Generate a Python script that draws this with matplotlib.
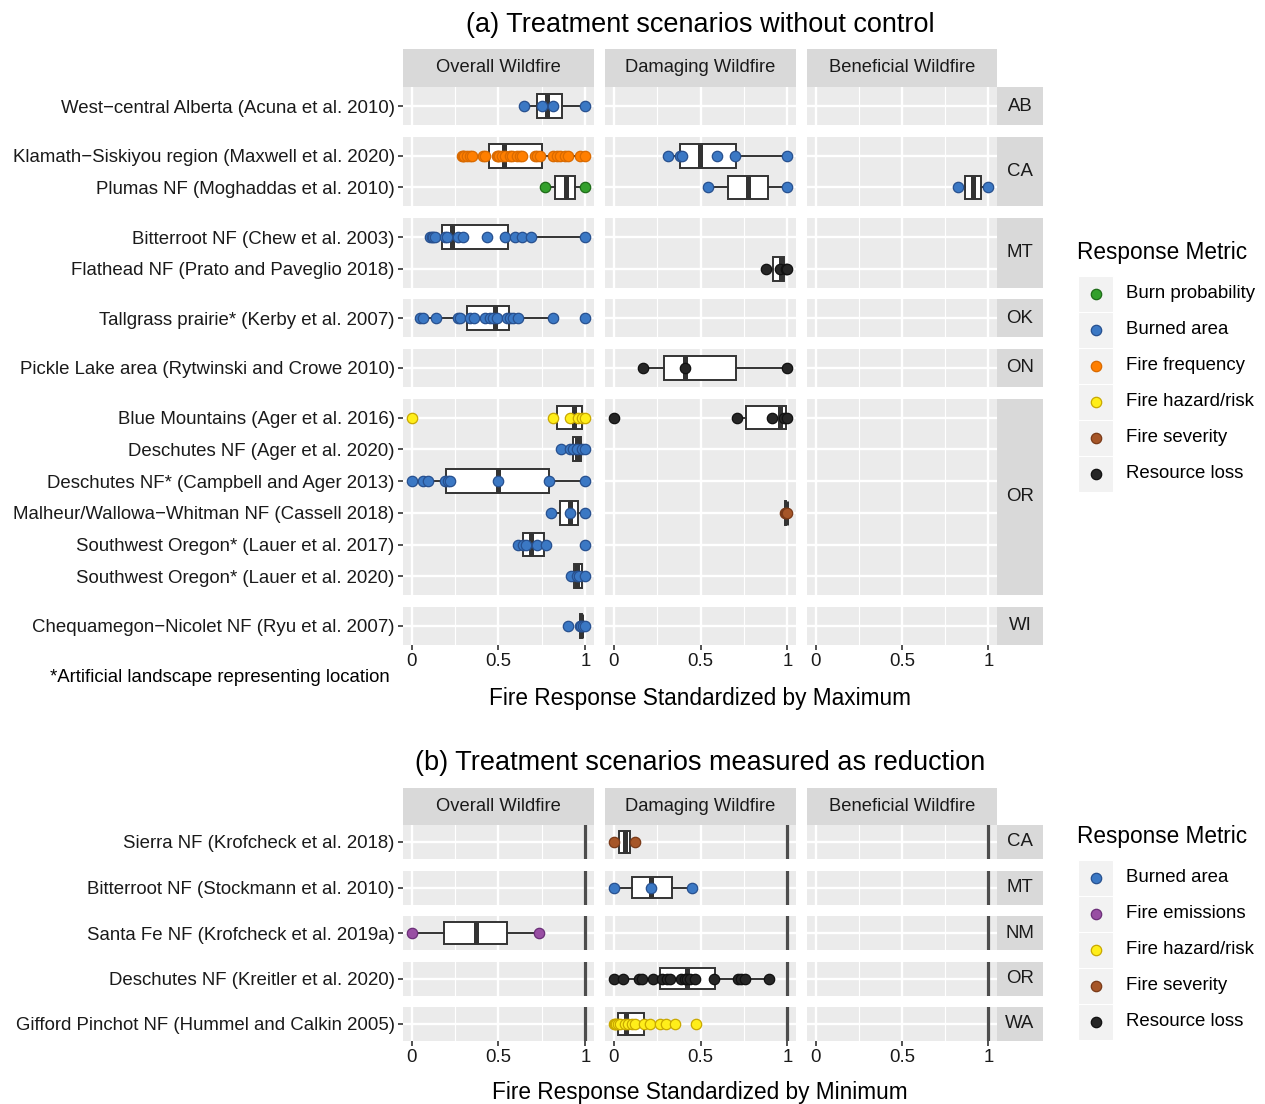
import matplotlib
matplotlib.use('Agg')
import matplotlib.pyplot as plt
from matplotlib.patches import Rectangle

plt.rcParams['font.family'] = ['Liberation Sans', 'DejaVu Sans']

# ---------------- data ----------------
facets = ['Overall Wildfire', 'Damaging Wildfire', 'Beneficial Wildfire']

metric_fill = {
    'Burn probability': '#33A02C',
    'Burned area': '#3B78C4',
    'Fire emissions': '#984EA3',
    'Fire frequency': '#FF7F00',
    'Fire hazard/risk': '#FFEE1A',
    'Fire severity': '#A65628',
    'Resource loss': '#262626',
}
metric_edge = {
    'Burn probability': '#1E6B18',
    'Burned area': '#27508F',
    'Fire emissions': '#6B2F78',
    'Fire frequency': '#D96A00',
    'Fire hazard/risk': '#C9A800',
    'Fire severity': '#7A3A18',
    'Resource loss': '#111111',
}

# Panel (a): studies, state groups
a_studies = [
    'West\u2212central Alberta (Acuna et al. 2010)',
    'Klamath\u2212Siskiyou region (Maxwell et al. 2020)',
    'Plumas NF (Moghaddas et al. 2010)',
    'Bitterroot NF (Chew et al. 2003)',
    'Flathead NF (Prato and Paveglio 2018)',
    'Tallgrass prairie* (Kerby et al. 2007)',
    'Pickle Lake area (Rytwinski and Crowe 2010)',
    'Blue Mountains (Ager et al. 2016)',
    'Deschutes NF (Ager et al. 2020)',
    'Deschutes NF* (Campbell and Ager 2013)',
    'Malheur/Wallowa\u2212Whitman NF (Cassell 2018)',
    'Southwest Oregon* (Lauer et al. 2017)',
    'Southwest Oregon* (Lauer et al. 2020)',
    'Chequamegon\u2212Nicolet NF (Ryu et al. 2007)',
]
a_states = ['AB', 'CA', 'CA', 'MT', 'MT', 'OK', 'ON', 'OR', 'OR', 'OR', 'OR', 'OR', 'OR', 'WI']
a_metrics_legend = ['Burn probability', 'Burned area', 'Fire frequency',
                    'Fire hazard/risk', 'Fire severity', 'Resource loss']

# point values (standardized by maximum)
alberta_overall = [0.647, 0.749, 0.816, 1.0]
klamath_overall = [0.288, 0.295, 0.301, 0.317, 0.336, 0.346, 0.412, 0.422, 0.49, 0.497,
                   0.505, 0.518, 0.537, 0.566, 0.576, 0.605, 0.624, 0.634, 0.71, 0.724,
                   0.739, 0.816, 0.835, 0.854, 0.883, 0.902, 0.97, 1.0]
klamath_damaging = [0.311, 0.382, 0.392, 0.594, 0.696, 1.0]
plumas_overall = [0.766, 1.0]
plumas_damaging = [0.542, 1.0]
plumas_beneficial = [0.826, 1.0]
bitterroot_overall = [0.105, 0.115, 0.124, 0.134, 0.192, 0.202, 0.268, 0.297, 0.436,
                      0.537, 0.595, 0.638, 0.686, 1.0]
flathead_damaging = [0.879, 0.956, 0.99, 1.0]
tallgrass_overall = [0.048, 0.067, 0.14, 0.268, 0.278, 0.336, 0.359, 0.422, 0.451, 0.467,
                     0.49, 0.551, 0.566, 0.585, 0.614, 0.812, 1.0]
pickle_damaging = [0.17, 0.41, 1.0]
bluemtn_overall = [0.0, 0.812, 0.912, 0.96, 0.979, 1.0]
bluemtn_damaging = [0.0, 0.712, 0.909, 0.98, 1.0]
deschutes20_overall = [0.86, 0.912, 0.931, 0.95, 0.979, 1.0]
deschutes13_overall = [0.0, 0.067, 0.096, 0.192, 0.211, 0.22, 0.499, 0.791, 1.0]
malheur_overall = [0.802, 0.912, 1.0]
malheur_damaging = [0.985, 0.99, 1.0]
swor17_overall = [0.614, 0.643, 0.66, 0.72, 0.772, 1.0]
swor20_overall = [0.918, 0.95, 0.965, 1.0]
chequamegon_overall = [0.899, 0.969, 0.975, 0.988, 1.0]

# box statistics: (whisker low, q1, median, q3, whisker high)
alberta_overall_box = (0.647, 0.72, 0.78, 0.864, 1.0)
klamath_overall_box = (0.288, 0.447, 0.532, 0.749, 1.0)
klamath_damaging_box = (0.311, 0.381, 0.496, 0.702, 1.0)
plumas_overall_box = (0.766, 0.824, 0.887, 0.94, 1.0)
plumas_damaging_box = (0.542, 0.657, 0.773, 0.888, 1.0)
plumas_beneficial_box = (0.826, 0.866, 0.911, 0.957, 1.0)
bitterroot_overall_box = (0.105, 0.173, 0.23, 0.553, 1.0)
flathead_damaging_box = (0.879, 0.917, 0.965, 0.98, 1.0)
tallgrass_overall_box = (0.048, 0.32, 0.48, 0.559, 0.812)
pickle_damaging_box = (0.17, 0.29, 0.41, 0.705, 1.0)
bluemtn_overall_box = (0.812, 0.835, 0.937, 0.983, 1.0)
bluemtn_damaging_box = (0.712, 0.76, 0.956, 0.994, 1.0)
deschutes20_overall_box = (0.86, 0.931, 0.95, 0.975, 1.0)
deschutes13_overall_box = (0.0, 0.196, 0.499, 0.791, 1.0)
malheur_overall_box = (0.802, 0.857, 0.912, 0.956, 1.0)
malheur_damaging_box = (0.985, 0.985, 0.99, 0.995, 1.0)
swor17_overall_box = (0.614, 0.643, 0.686, 0.76, 0.772)
swor20_overall_box = (0.918, 0.935, 0.95, 0.979, 1.0)
chequamegon_overall_box = (0.969, 0.969, 0.975, 0.983, 0.988)

# (study index, facet index, metric, points, box)
a_records = [
    (0, 0, 'Burned area', alberta_overall, alberta_overall_box),
    (1, 0, 'Fire frequency', klamath_overall, klamath_overall_box),
    (1, 1, 'Burned area', klamath_damaging, klamath_damaging_box),
    (2, 0, 'Burn probability', plumas_overall, plumas_overall_box),
    (2, 1, 'Burned area', plumas_damaging, plumas_damaging_box),
    (2, 2, 'Burned area', plumas_beneficial, plumas_beneficial_box),
    (3, 0, 'Burned area', bitterroot_overall, bitterroot_overall_box),
    (4, 1, 'Resource loss', flathead_damaging, flathead_damaging_box),
    (5, 0, 'Burned area', tallgrass_overall, tallgrass_overall_box),
    (6, 1, 'Resource loss', pickle_damaging, pickle_damaging_box),
    (7, 0, 'Fire hazard/risk', bluemtn_overall, bluemtn_overall_box),
    (7, 1, 'Resource loss', bluemtn_damaging, bluemtn_damaging_box),
    (8, 0, 'Burned area', deschutes20_overall, deschutes20_overall_box),
    (9, 0, 'Burned area', deschutes13_overall, deschutes13_overall_box),
    (10, 0, 'Burned area', malheur_overall, malheur_overall_box),
    (10, 1, 'Fire severity', malheur_damaging, malheur_damaging_box),
    (11, 0, 'Burned area', swor17_overall, swor17_overall_box),
    (12, 0, 'Burned area', swor20_overall, swor20_overall_box),
    (13, 0, 'Burned area', chequamegon_overall, chequamegon_overall_box),
]

# Panel (b)
b_studies = [
    'Sierra NF (Krofcheck et al. 2018)',
    'Bitterroot NF (Stockmann et al. 2010)',
    'Santa Fe NF (Krofcheck et al. 2019a)',
    'Deschutes NF (Kreitler et al. 2020)',
    'Gifford Pinchot NF (Hummel and Calkin 2005)',
]
b_states = ['CA', 'MT', 'NM', 'OR', 'WA']
b_metrics_legend = ['Burned area', 'Fire emissions', 'Fire hazard/risk',
                    'Fire severity', 'Resource loss']

sierra_damaging = [0.0, 0.125]
stockmann_damaging = [0.0, 0.216, 0.452]
santafe_overall = [0.0, 0.735]
kreitler_damaging = [0.0, 0.052, 0.144, 0.163, 0.224, 0.281, 0.306, 0.325, 0.385, 0.412,
                     0.421, 0.44, 0.469, 0.58, 0.715, 0.734, 0.757, 0.896]
gifford_damaging = [0.0, 0.005, 0.014, 0.025, 0.039, 0.065, 0.085, 0.106, 0.125, 0.173,
                    0.212, 0.269, 0.302, 0.356, 0.475]

sierra_damaging_box = (0.0, 0.031, 0.063, 0.094, 0.125)
stockmann_damaging_box = (0.0, 0.108, 0.216, 0.334, 0.452)
santafe_overall_box = (0.0, 0.184, 0.368, 0.551, 0.735)
kreitler_damaging_box = (0.0, 0.264, 0.423, 0.583, 0.896)
gifford_damaging_box = (0.0, 0.023, 0.073, 0.173, 0.356)

b_records = [
    (0, 1, 'Fire severity', sierra_damaging, sierra_damaging_box),
    (1, 1, 'Burned area', stockmann_damaging, stockmann_damaging_box),
    (2, 0, 'Fire emissions', santafe_overall, santafe_overall_box),
    (3, 1, 'Resource loss', kreitler_damaging, kreitler_damaging_box),
    (4, 1, 'Fire hazard/risk', gifford_damaging, gifford_damaging_box),
]
reference_line = 1.0

x_ticks = [0, 0.5, 1]
x_ticklabels = ['0', '0.5', '1']

# ---------------- layout helpers ----------------
W, H = 1265, 1104
fig = plt.figure(figsize=(W / 100, H / 100), dpi=100)
fig.patch.set_facecolor('white')


def px_axes(x0, y0, x1, y1):
    return fig.add_axes([x0 / W, 1 - y1 / H, (x1 - x0) / W, (y1 - y0) / H])


def fy(y):
    return 1 - y / H


def fx(x):
    return x / W


COLS = [(403, 594), (605, 796), (807, 997)]
STRIP_R = (997, 1043)
GRID_C = 'white'
PANEL_BG = '#EBEBEB'
STRIP_BG = '#D9D9D9'
DARK = '#333333'
TICK_FS = 13.4
PT_SIZE = 56


def strip_axes(x0, y0, x1, y1, text, fs=13.2):
    ax = px_axes(x0, y0, x1, y1)
    ax.set_facecolor(STRIP_BG)
    for s in ax.spines.values():
        s.set_visible(False)
    ax.set_xticks([])
    ax.set_yticks([])
    ax.text(0.5, 0.5, text, ha='center', va='center', fontsize=fs, color='#1A1A1A',
            transform=ax.transAxes)
    return ax


def draw_section(studies, states, records, strip_top, row_top, unit, gap, vline=None):
    groups = []
    for i, st in enumerate(states):
        if groups and groups[-1][0] == st:
            groups[-1][1].append(i)
        else:
            groups.append((st, [i]))
    for c, (x0, x1) in enumerate(COLS):
        strip_axes(x0, strip_top, x1, row_top, facets[c])
    y = row_top
    for gi, (st, idxs) in enumerate(groups):
        n = len(idxs)
        h = (n + 0.2) * unit
        last = gi == len(groups) - 1
        for c, (x0, x1) in enumerate(COLS):
            ax = px_axes(x0, y, x1, y + h)
            ax.set_facecolor(PANEL_BG)
            for s in ax.spines.values():
                s.set_visible(False)
            ax.set_xlim(-0.05, 1.05)
            ax.set_ylim(n - 0.4, -0.6)
            ax.set_xticks(x_ticks)
            ax.set_xticks([0.25, 0.75], minor=True)
            ax.set_yticks(list(range(n)))
            ax.set_axisbelow(True)
            ax.grid(which='major', color=GRID_C, lw=1.7)
            ax.grid(which='minor', axis='x', color=GRID_C, lw=0.85)
            ax.tick_params(which='minor', length=0)
            if c == 0:
                ax.set_yticklabels([studies[i] for i in idxs], fontsize=TICK_FS, color='#1A1A1A')
                ax.tick_params(axis='y', length=3.5, width=1.2, color=DARK, pad=2.5)
            else:
                ax.set_yticklabels([])
                ax.tick_params(axis='y', length=0)
            if last:
                ax.set_xticklabels(x_ticklabels, fontsize=TICK_FS, color='#1A1A1A')
                ax.tick_params(axis='x', length=3.5, width=1.2, color=DARK, pad=2.0)
            else:
                ax.set_xticklabels([])
                ax.tick_params(axis='x', length=0)
            if vline is not None:
                ax.axvline(vline, color='#4D4D4D', lw=2.3, zorder=2)
            for (si, fc, metric, vals, box) in records:
                if fc != c or si not in idxs:
                    continue
                pos = idxs.index(si)
                stats = [{'whislo': box[0], 'q1': box[1], 'med': box[2], 'q3': box[3],
                          'whishi': box[4], 'fliers': []}]
                ax.bxp(stats, positions=[pos], widths=0.75, orientation='horizontal',
                       patch_artist=True, showcaps=False, showfliers=False,
                       boxprops=dict(facecolor='white', edgecolor=DARK, lw=1.4),
                       whiskerprops=dict(color=DARK, lw=1.4),
                       medianprops=dict(color=DARK, lw=3.6, solid_capstyle='butt'),
                       manage_ticks=False, zorder=3)
                ax.scatter(vals, [pos] * len(vals), s=PT_SIZE, c=metric_fill[metric],
                           edgecolors=metric_edge[metric], linewidths=0.9, zorder=4,
                           clip_on=False)
        strip_axes(STRIP_R[0], y, STRIP_R[1], y + h, st, fs=13.4)
        y += h + gap
    return y - gap


def draw_legend(title, metrics, title_y, key_top):
    fig.text(fx(1077), fy(title_y), title, ha='left', va='center', fontsize=16.3, color='black')
    lax = px_axes(1078, key_top, 1262, key_top + 36 * len(metrics))
    lax.set_xlim(1078, 1262)
    lax.set_ylim(key_top + 36 * len(metrics), key_top)
    lax.axis('off')
    for k, m in enumerate(metrics):
        yc = key_top + 36 * k + 18
        lax.add_patch(Rectangle((1078, key_top + 36 * k), 35, 36, facecolor='#F2F2F2',
                                edgecolor='white', lw=0.8))
        lax.scatter([1096], [yc], s=PT_SIZE, c=metric_fill[m], edgecolors=metric_edge[m],
                    linewidths=0.9, zorder=3)
        lax.text(1126, yc, m, ha='left', va='center', fontsize=13.4, color='black')


# ---------------- panel (a) ----------------
fig.text(fx(700), fy(25), '(a) Treatment scenarios without control', ha='center',
         va='center', fontsize=19.5, color='black')
a_unit = (645 - 87 - 6 * 11.5) / (14 + 7 * 0.2)
draw_section(a_studies, a_states, a_records, 49, 87, a_unit, 11.5)
fig.text(fx(390), fy(678), '*Artificial landscape representing location', ha='right',
         va='center', fontsize=13.4, color='black')
fig.text(fx(700), fy(698), 'Fire Response Standardized by Maximum', ha='center',
         va='center', fontsize=16.3, color='black')
draw_legend('Response Metric', a_metrics_legend, 253, 276)

# ---------------- panel (b) ----------------
fig.text(fx(700), fy(763), '(b) Treatment scenarios measured as reduction', ha='center',
         va='center', fontsize=19.5, color='black')
b_unit = 34 / 1.2
draw_section(b_studies, b_states, b_records, 788, 825, b_unit, 11.5, vline=reference_line)
fig.text(fx(700), fy(1092), 'Fire Response Standardized by Minimum', ha='center',
         va='center', fontsize=16.3, color='black')
draw_legend('Response Metric', b_metrics_legend, 837, 860)

fig.savefig('out.png', dpi=100, facecolor='white')
